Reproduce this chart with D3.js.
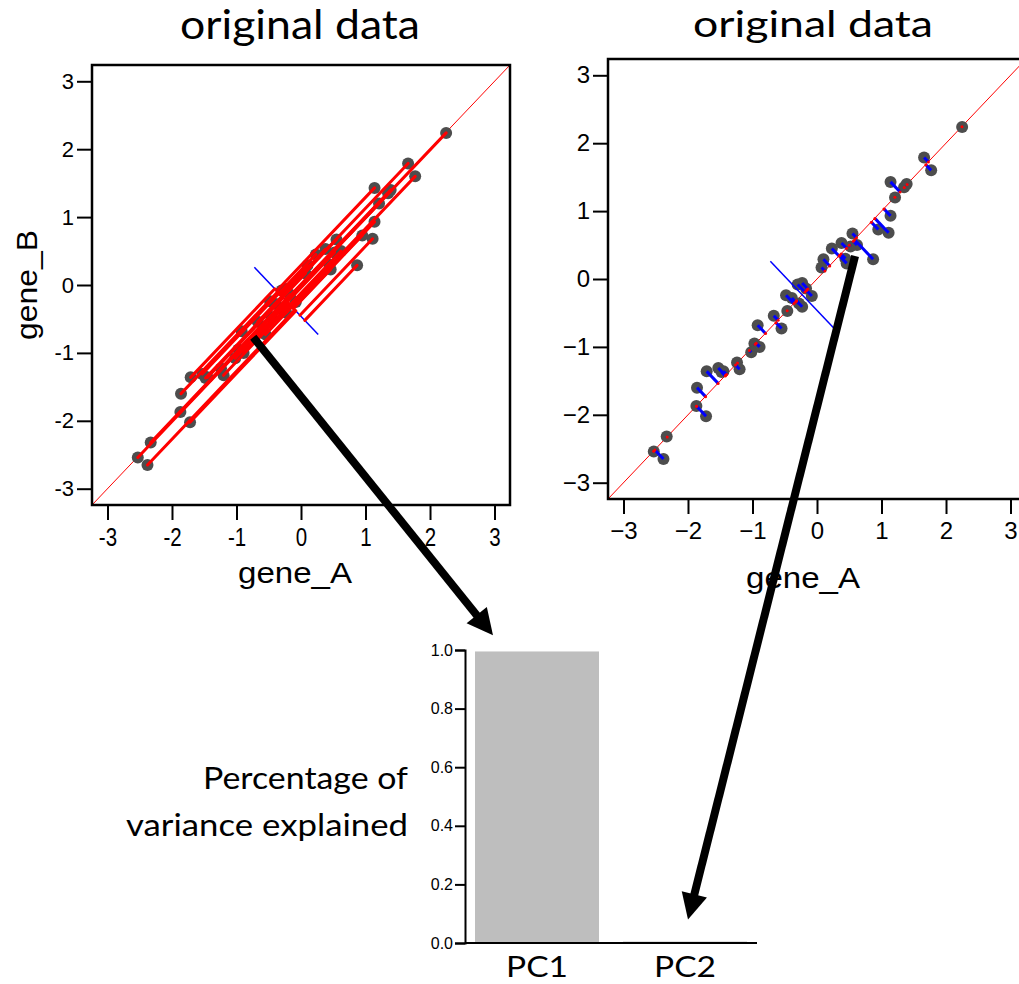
<!DOCTYPE html>
<html>
<head>
<meta charset="utf-8">
<script src="https://cdnjs.cloudflare.com/ajax/libs/d3/7.8.5/d3.min.js"></script>
<style>
body{margin:0;background:#fff;}
</style>
</head>
<body>
<div id="figure"></div>
<script>
// values
var geneA=[2.25,1.66,1.77,1.14,1.39,1.35,1.21,1.14,1.11,0.95,0.87,0.55,0.38,0.52,0.62,0.23,0.10,0.07,0.44,0.46,
  -0.23,-0.30,-0.17,-0.08,-0.48,-0.39,-0.28,-0.23,-0.46,-0.67,-0.55,-0.92,-0.97,-0.89,-1.02,-1.24,-1.20,
  -1.53,-1.45,-1.48,-1.71,-1.86,-1.87,-1.72,-2.33,-2.53,-2.38];
var geneB=[2.24,1.79,1.60,1.43,1.40,1.35,1.20,0.93,0.68,0.73,0.29,0.67,0.53,0.48,0.50,0.45,0.29,0.17,0.30,0.23,
  -0.06,-0.08,-0.14,-0.25,-0.24,-0.28,-0.36,-0.41,-0.47,-0.54,-0.73,-0.68,-0.95,-1.00,-1.08,-1.23,-1.33,
  -1.31,-1.36,-1.37,-1.36,-1.60,-1.87,-2.02,-2.32,-2.54,-2.65];
var axisTicks=[-3,-2,-1,0,1,2,3];
var pcNames=["PC1","PC2"];
var varExplained=[0.995,0.005];
var barTicks=[0,0.2,0.4,0.6,0.8,1.0];
var pc2HalfLength=0.7;

var W=1019,H=984;
var ptColor="#4d4d4d";
var uiFont="Lato, 'Open Sans', sans-serif";
var axFont="'Liberation Sans', Arial, sans-serif";

var svg=d3.select("#figure").append("svg").attr("width",W).attr("height",H);

// points + PCA centre (PC1 along the diagonal, PC2 across it)
var pts=geneA.map(function(a,i){return {x:a,y:geneB[i]};});
var mx=d3.mean(geneA),my=d3.mean(geneB);
var u1={x:Math.SQRT1_2,y:Math.SQRT1_2};
var u2={x:-Math.SQRT1_2,y:Math.SQRT1_2};
function projOn(p,u){
  var t=(p.x-mx)*u.x+(p.y-my)*u.y;
  return {x:mx+t*u.x,y:my+t*u.y};
}

// text stretched to the width it has in the picture
function wideText(x,y,size,len,anchor,txt,family){
  return svg.append("text").attr("x",x).attr("y",y).attr("text-anchor",anchor)
    .attr("font-family",family||uiFont).attr("font-size",size)
    .attr("textLength",len).attr("lengthAdjust","spacingAndGlyphs").text(txt);
}

function drawPanel(opt){
  var g=svg.append("g");
  var xs=d3.scaleLinear().domain([-3.24,3.24]).range(opt.xr);
  var ys=d3.scaleLinear().domain([-3.24,3.24]).range(opt.yr);

  // y axis
  var ya=g.append("g").attr("transform","translate("+opt.xr[0]+",0)")
    .call(d3.axisLeft(ys).tickValues(axisTicks).tickSize(15).tickPadding(3).tickFormat(opt.fmt));
  ya.select(".domain").remove();
  ya.selectAll("line").attr("stroke","#000").attr("stroke-width",2);
  ya.selectAll("text").attr("font-family",axFont).attr("font-size",opt.tickSize).attr("fill","#000");

  // x axis
  var xa=g.append("g").attr("transform","translate(0,"+opt.yr[0]+")")
    .call(d3.axisBottom(xs).tickValues(axisTicks).tickSize(15).tickPadding(8).tickFormat(opt.fmt));
  xa.select(".domain").remove();
  xa.selectAll("line").attr("stroke","#000").attr("stroke-width",2);
  xa.selectAll("text").attr("font-family",axFont).attr("font-size",opt.xTickSize).attr("fill","#000")
    .attr("transform","scale("+opt.xTickScale+",1)");

  // diagonal (y = x)
  g.append("line").attr("x1",xs(-3.24)).attr("y1",ys(-3.24)).attr("x2",xs(3.24)).attr("y2",ys(3.24))
    .attr("stroke","#ff0000").attr("stroke-width",1);

  g.selectAll("circle.pt").data(pts).enter().append("circle").attr("class","pt")
    .attr("cx",function(d){return xs(d.x);}).attr("cy",function(d){return ys(d.y);})
    .attr("r",6).attr("fill",ptColor);

  var pcLine=function(){
    g.append("line")
      .attr("x1",xs(mx-pc2HalfLength*u2.x)).attr("y1",ys(my-pc2HalfLength*u2.y))
      .attr("x2",xs(mx+pc2HalfLength*u2.x)).attr("y2",ys(my+pc2HalfLength*u2.y))
      .attr("stroke","#0000ff").attr("stroke-width",1.5);
  };

  if(opt.mode=="pc2"){
    pcLine();
    // project every point onto the PC2 axis
    g.selectAll("line.seg").data(pts).enter().append("line").attr("class","seg")
      .attr("x1",function(d){return xs(d.x);}).attr("y1",function(d){return ys(d.y);})
      .attr("x2",function(d){return xs(projOn(d,u2).x);}).attr("y2",function(d){return ys(projOn(d,u2).y);})
      .attr("stroke","#ff0000").attr("stroke-width",3).attr("stroke-linecap","round");
  }else{
    g.selectAll("line.seg").data(pts).enter().append("line").attr("class","seg")
      .attr("x1",function(d){return xs(d.x);}).attr("y1",function(d){return ys(d.y);})
      .attr("x2",function(d){return xs(projOn(d,u1).x);}).attr("y2",function(d){return ys(projOn(d,u1).y);})
      .attr("stroke","#0000ff").attr("stroke-width",3);
    g.selectAll("circle.pj").data(pts).enter().append("circle").attr("class","pj")
      .attr("cx",function(d){return xs(projOn(d,u1).x);}).attr("cy",function(d){return ys(projOn(d,u1).y);})
      .attr("r",1.5).attr("fill","#ff0000");
    pcLine();
  }

  // frame
  g.append("rect").attr("x",opt.xr[0]).attr("y",opt.yr[1])
    .attr("width",opt.xr[1]-opt.xr[0]).attr("height",opt.yr[0]-opt.yr[1])
    .attr("fill","none").attr("stroke","#000").attr("stroke-width",2.5);

  wideText(opt.titleX,opt.titleY,opt.titleSize,240,"middle","original data");
  wideText(opt.labX,opt.labY,30,114,"middle","gene_A",axFont);
  return {xs:xs,ys:ys};
}

var left=drawPanel({xr:[92,510],yr:[505,65],mode:"pc2",fmt:function(d){return d<0?"-"+(-d):d;},
  tickSize:22,xTickSize:25,xTickScale:0.82,titleX:300,titleY:39,titleSize:40,labX:295,labY:583});
var right=drawPanel({xr:[608,1026],yr:[499,59],mode:"pc1",fmt:function(d){return d<0?"\u2212"+(-d):d;},
  tickSize:24,xTickSize:24,xTickScale:1,titleX:813,titleY:37,titleSize:37,labX:803,labY:588});

svg.append("text").attr("transform","translate(37,285) rotate(-90)").attr("text-anchor","middle")
  .attr("font-family",axFont).attr("font-size",30).attr("textLength",110).attr("lengthAdjust","spacingAndGlyphs")
  .text("gene_B");

// variance explained bar chart
var bx=d3.scaleBand().domain(pcNames).range([463,759]).paddingInner(24/148).paddingOuter(12/148);
var by=d3.scaleLinear().domain([0,1]).range([943,650]);
var bg=svg.append("g");
bg.selectAll("rect.bar").data(pcNames).enter().append("rect").attr("class","bar")
  .attr("x",function(d){return bx(d);}).attr("width",bx.bandwidth())
  .attr("y",function(d,i){return by(varExplained[i]);})
  .attr("height",function(d,i){return by(0)-by(varExplained[i]);})
  .attr("fill","#bebebe");
bg.append("line").attr("x1",465).attr("x2",757).attr("y1",by(0)).attr("y2",by(0))
  .attr("stroke","#000").attr("stroke-width",2);
var bya=bg.append("g").attr("transform","translate(465,0)")
  .call(d3.axisLeft(by).tickValues(barTicks).tickSize(10).tickPadding(2).tickFormat(d3.format(".1f")));
bya.select(".domain").attr("stroke-width",2);
bya.selectAll("line").attr("stroke-width",2);
bya.selectAll("text").attr("font-family",axFont).attr("font-size",16).attr("fill","#000");
bg.selectAll("text.pc").data(pcNames).enter().append("text").attr("class","pc")
  .attr("x",function(d){return bx(d)+bx.bandwidth()/2;}).attr("y",977).attr("text-anchor","middle")
  .attr("font-family",uiFont).attr("font-size",28).attr("textLength",62).attr("lengthAdjust","spacingAndGlyphs")
  .text(function(d){return d;});
wideText(408,789,31,205,"end","Percentage of");
wideText(408,836,31,282,"end","variance explained");

// black arrows from the panels to the bars
var arrows=[
  {x1:left.xs(-0.74),y1:left.ys(-0.77),x2:bx("PC1")+18,y2:by(1.05)},
  {x1:right.xs(0.59),y1:right.ys(0.34),x2:bx("PC2")+bx.bandwidth()/2+3,y2:by(0.08)}
];
arrows.forEach(function(a){
  var dx=a.x2-a.x1,dy=a.y2-a.y1,len=Math.sqrt(dx*dx+dy*dy);
  var ux=dx/len,uy=dy/len,hl=26,hw=13;
  var bxp=a.x2-ux*hl,byp=a.y2-uy*hl;
  svg.append("line").attr("x1",a.x1).attr("y1",a.y1).attr("x2",bxp+ux*2).attr("y2",byp+uy*2)
    .attr("stroke","#000").attr("stroke-width",8);
  svg.append("path").attr("d","M"+a.x2+","+a.y2+"L"+(bxp-uy*hw)+","+(byp+ux*hw)+"L"+(bxp+uy*hw)+","+(byp-ux*hw)+"Z")
    .attr("fill","#000");
});
</script>
</body>
</html>
